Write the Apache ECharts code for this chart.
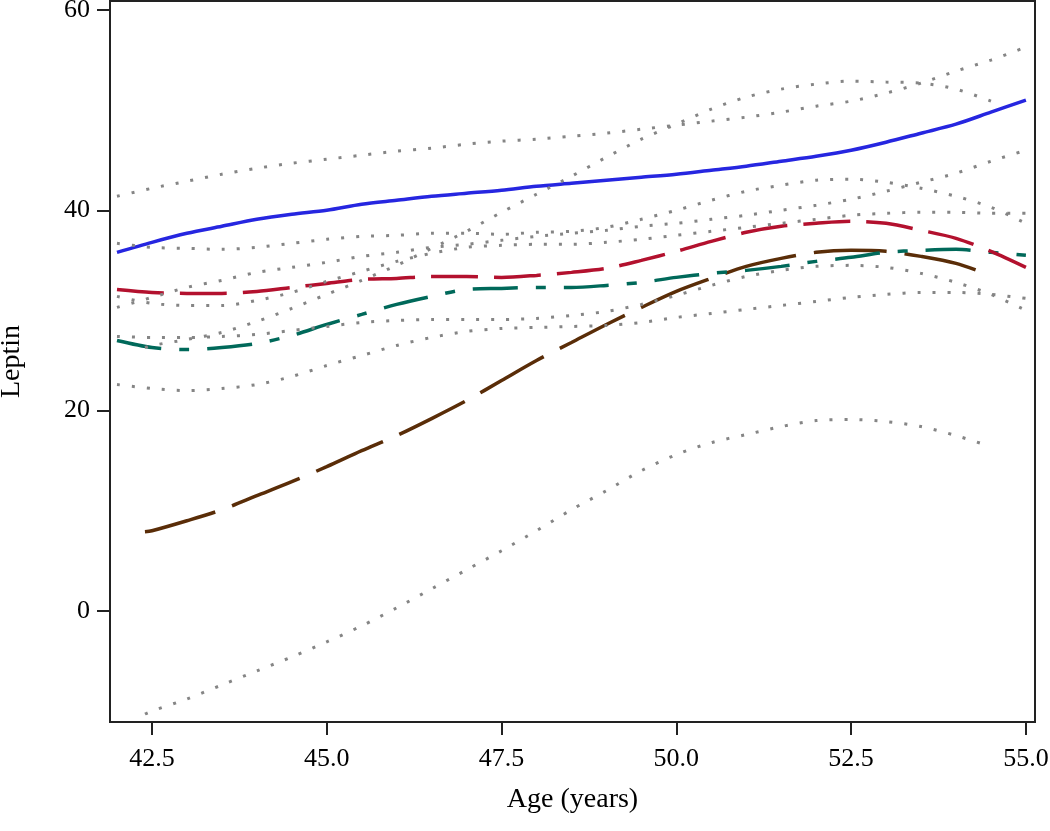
<!DOCTYPE html>
<html>
<head>
<meta charset="utf-8">
<script src="https://cdn.jsdelivr.net/npm/echarts@6/dist/echarts.min.js"></script>
<style>
html,body{margin:0;padding:0;background:#fff;}
#chart{width:1050px;height:831px;}
</style>
</head>
<body>
<div id="chart"></div>
<script>
// ---- data ----
var ages = [42.0,42.5,43.0,43.5,44.0,44.5,45.0,45.5,46.0,46.5,47.0,47.5,48.0,48.5,49.0,49.5,50.0,50.5,51.0,51.5,52.0,52.5,53.0,53.5,54.0,54.5,55.0];
var brownAges = [42.4,42.5,43.0,43.5,44.0,44.5,45.0,45.5,46.0,46.5,47.0,47.5,48.0,48.5,49.0,49.5,50.0,50.5,51.0,51.5,52.0,52.5,53.0,53.5,54.0,54.5];

var blue      = [35.8,36.8,37.7,38.4,39.1,39.6,40.0,40.6,41.0,41.4,41.7,42.0,42.4,42.7,43.0,43.3,43.6,44.0,44.4,44.9,45.4,46.0,46.8,47.7,48.6,49.8,51.0];
var blueUpper = [41.4,42.2,42.9,43.6,44.2,44.7,45.1,45.5,45.9,46.2,46.6,46.9,47.1,47.4,47.7,48.1,48.5,48.9,49.3,49.8,50.4,50.9,51.7,52.7,53.9,55.0,56.3];
var blueLower = [30.3,31.3,32.3,33.0,33.8,34.3,34.8,35.4,35.8,36.3,36.6,37.0,37.4,37.7,38.0,38.4,38.7,39.1,39.5,40.0,40.5,41.1,41.9,42.8,43.7,44.9,46.0];

var red      = [32.1,31.8,31.7,31.7,31.9,32.3,32.7,33.1,33.2,33.4,33.4,33.3,33.5,33.8,34.2,35.0,35.9,36.9,37.8,38.4,38.7,38.9,38.7,38.0,37.2,35.9,34.3];
var redUpper = [36.7,36.3,36.2,36.1,36.3,36.7,37.1,37.4,37.5,37.7,37.7,37.6,37.8,37.9,38.3,39.1,40.0,41.0,41.9,42.5,43.0,43.1,42.8,42.2,41.4,40.3,38.7];
var redLower = [27.4,27.3,27.3,27.4,27.6,28.0,28.4,28.8,29.0,29.1,29.1,29.1,29.2,29.5,29.9,30.6,31.5,32.5,33.4,34.0,34.4,34.5,34.3,33.7,32.8,31.6,30.0];

var teal      = [27.0,26.3,26.1,26.3,26.7,27.5,28.6,29.6,30.6,31.4,32.1,32.2,32.3,32.3,32.5,32.8,33.3,33.7,34.0,34.4,34.9,35.3,35.8,36.0,36.1,35.8,35.5];
var tealUpper = [31.4,30.7,30.5,30.5,31.0,31.8,32.9,33.9,34.9,35.7,36.3,36.5,36.6,36.6,36.8,37.1,37.5,37.9,38.3,38.7,39.1,39.5,39.7,39.8,39.8,39.7,39.7];
var tealLower = [22.6,22.2,22.0,22.2,22.6,23.4,24.5,25.5,26.5,27.3,27.9,28.2,28.3,28.4,28.5,28.8,29.3,29.7,30.1,30.5,30.9,31.3,31.6,31.8,31.8,31.6,31.2];

var brown      = [7.9,8.0,9.0,10.1,11.5,12.9,14.4,16.0,17.5,19.2,21.0,23.0,25.0,26.8,28.6,30.3,31.9,33.2,34.4,35.2,35.8,36.0,35.9,35.4,34.7,33.5];
var brownUpper = [26.3,26.5,27.1,27.8,28.9,30.2,31.6,33.0,34.5,36.2,37.9,39.8,41.6,43.4,45.3,47.1,48.6,50.1,51.3,52.1,52.6,52.9,52.8,52.7,52.1,50.9];
var brownLower = [-10.3,-10.0,-8.8,-7.4,-6.0,-4.6,-3.1,-1.5,0.3,2.2,4.1,6.0,8.0,10.1,12.0,14.0,15.6,16.8,17.6,18.4,19.0,19.1,18.9,18.4,17.5,16.4];

var xTicks = [42.5,45.0,47.5,50.0,52.5,55.0];
var yTicks = [0,20,40,60];
var xTitle = 'Age (years)';
var yTitle = 'Leptin';

// ---- chart ----
function pairs(xs, ys){ return xs.map(function(x,i){ return [x, ys[i]]; }); }

var FONT = '"Liberation Serif","DejaVu Serif",serif';
var AXIS = '#222';

function solidLine(name, xs, ys, color, width, dash){
  return {
    name: name, type: 'line', data: pairs(xs, ys), showSymbol: false, symbol: 'none',
    smooth: 0.3, z: 3,
    lineStyle: { color: color, width: width, type: dash || 'solid', cap: 'butt' }
  };
}
function dotLine(name, xs, ys){
  return {
    name: name, type: 'line', data: pairs(xs, ys), showSymbol: false, symbol: 'none',
    smooth: 0.3, z: 4,
    lineStyle: { color: '#858585', width: 3, type: [3, 12], cap: 'butt' }
  };
}

var chart = echarts.init(document.getElementById('chart'), null, {renderer: 'canvas'});
chart.setOption({
  animation: false,
  backgroundColor: '#fff',
  grid: { left: 110, right: 15, top: 1, bottom: 109, containLabel: false, outerBoundsMode: 'none',
          show: true, borderColor: AXIS, borderWidth: 2, backgroundColor: 'transparent' },
  xAxis: {
    type: 'value', min: 41.9, max: 55.13,
    name: xTitle, nameLocation: 'middle', nameGap: 64,
    nameTextStyle: { fontFamily: FONT, fontSize: 28, color: '#000' },
    axisLine: { show: true, onZero: false, lineStyle: { color: AXIS, width: 2 } },
    axisTick: { show: true, inside: false, length: 13, lineStyle: { color: AXIS, width: 2 }, customValues: xTicks },
    axisLabel: { show: true, margin: 24, fontFamily: FONT, fontSize: 26, color: '#000', customValues: xTicks,
      formatter: function(v){ return v.toFixed(1); } },
    splitLine: { show: false }
  },
  yAxis: {
    type: 'value', min: -11.1, max: 60.9,
    name: yTitle, nameLocation: 'middle', nameGap: 84,
    nameTextStyle: { fontFamily: FONT, fontSize: 28, color: '#000' },
    axisLine: { show: true, onZero: false, lineStyle: { color: AXIS, width: 2 } },
    axisTick: { show: true, inside: false, length: 13, lineStyle: { color: AXIS, width: 2 }, customValues: yTicks },
    axisLabel: { show: true, margin: 20, fontFamily: FONT, fontSize: 26, color: '#000', customValues: yTicks,
      formatter: function(v){ return String(Math.round(v)); } },
    splitLine: { show: false }
  },
  series: [
    dotLine('Blue upper', ages, blueUpper),
    dotLine('Blue lower', ages, blueLower),
    dotLine('Red upper', ages, redUpper),
    dotLine('Red lower', ages, redLower),
    dotLine('Teal upper', ages, tealUpper),
    dotLine('Teal lower', ages, tealLower),
    dotLine('Brown upper', brownAges, brownUpper),
    dotLine('Brown lower', brownAges, brownLower),
    solidLine('Brown', brownAges, brown, '#5a2d08', 3.5, [73, 18]),
    solidLine('Teal', ages, teal, '#00695a', 3.5, [45, 18, 10, 18]),
    solidLine('Red', ages, red, '#b3112e', 3.5, [47, 16]),
    solidLine('Blue', ages, blue, '#2626e0', 3.5, 'solid')
  ]
});
</script>
</body>
</html>
